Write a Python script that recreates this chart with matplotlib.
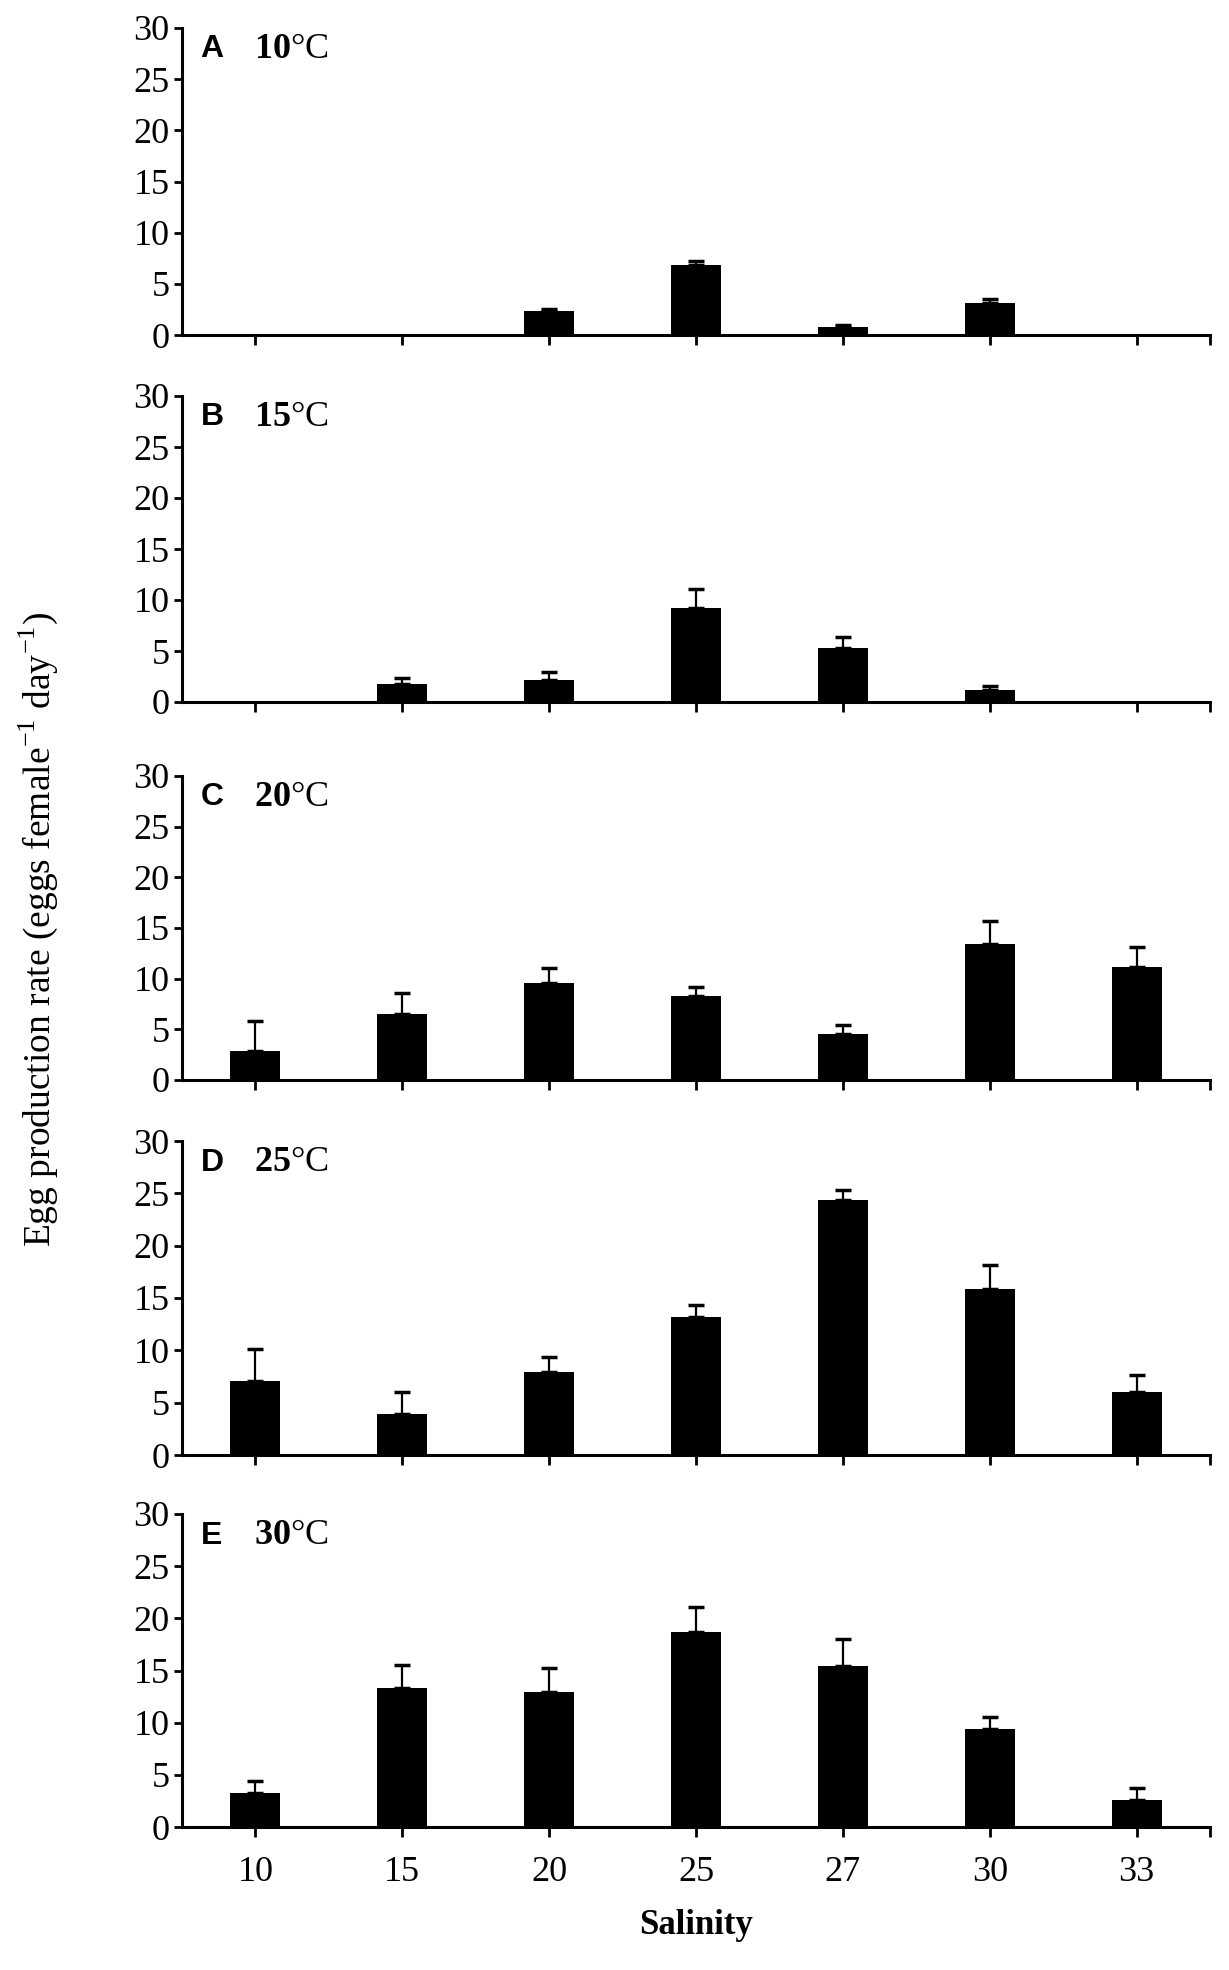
import matplotlib
matplotlib.use('Agg')
import matplotlib.pyplot as plt
import numpy as np

# Egg production rate by salinity, one panel per temperature
salinity = ['10', '15', '20', '25', '27', '30', '33']
panel_letters = ['A', 'B', 'C', 'D', 'E']
temps = ['10', '15', '20', '25', '30']

mean_10c = [0, 0, 2.3, 6.8, 0.75, 3.1, 0]
err_10c = [0, 0, 0.25, 0.4, 0.25, 0.4, 0]
mean_15c = [0, 1.8, 2.2, 9.2, 5.3, 1.2, 0]
err_15c = [0, 0.55, 0.7, 1.9, 1.1, 0.4, 0]
mean_20c = [2.9, 6.5, 9.6, 8.3, 4.5, 13.4, 11.2]
err_20c = [2.9, 2.1, 1.5, 0.85, 0.9, 2.25, 1.9]
mean_25c = [7.1, 3.9, 7.9, 13.2, 24.4, 15.9, 6.0]
err_25c = [3.0, 2.1, 1.45, 1.15, 0.9, 2.3, 1.6]
mean_30c = [3.3, 13.3, 12.9, 18.7, 15.4, 9.4, 2.6]
err_30c = [1.1, 2.2, 2.3, 2.4, 2.65, 1.15, 1.1]

means = [mean_10c, mean_15c, mean_20c, mean_25c, mean_30c]
errs = [err_10c, err_15c, err_20c, err_25c, err_30c]

plt.rcParams['font.family'] = 'Liberation Serif'
plt.rcParams['mathtext.fontset'] = 'custom'
plt.rcParams['mathtext.rm'] = 'Liberation Serif'
plt.rcParams['mathtext.bf'] = 'Liberation Serif:bold'

W, H = 1229, 1970
fig = plt.figure(figsize=(W / 100, H / 100), dpi=100)

# pixel boxes (top of 30, y of 0) for each panel
panel_px = [(28, 335), (396, 702), (776, 1080), (1141, 1455), (1514, 1827)]
left_px, right_px = 182, 1210

x = np.arange(len(salinity))
for i, (top, bot) in enumerate(panel_px):
    ax = fig.add_axes([left_px / W, 1 - bot / H, (right_px - left_px) / W, (bot - top) / H])
    m = np.array(means[i])
    e = np.array(errs[i])
    ax.bar(x, m, width=0.34, color='black', zorder=2)
    keep = m > 0
    ax.errorbar(x[keep], m[keep], yerr=[np.zeros(keep.sum()), e[keep]], fmt='none',
                ecolor='black', elinewidth=1.6, capsize=6, capthick=2.5, zorder=1)
    ax.set_xlim(-0.5, 6.5)
    ax.set_ylim(0, 30)
    ax.set_yticks(range(0, 31, 5))
    ax.set_xticks(list(x) + [6.5])
    if i == len(panel_px) - 1:
        ax.set_xticklabels(salinity + [''])
    else:
        ax.set_xticklabels([''] * 8)
    for s in ['top', 'right']:
        ax.spines[s].set_visible(False)
    for s in ['left', 'bottom']:
        ax.spines[s].set_linewidth(2.2)
    ax.tick_params(axis='y', direction='out', length=6, width=2, labelsize=26, pad=3)
    ax.tick_params(axis='x', direction='out', length=7, width=2, labelsize=26, pad=14)
    ax.text(0.018, 0.93, panel_letters[i], transform=ax.transAxes, fontsize=23,
            fontweight='bold', family='Liberation Sans', va='center', ha='left')
    ax.text(0.07, 0.93, r'$\mathbf{' + temps[i] + '}$' + '°C', transform=ax.transAxes,
            fontsize=26, va='center', ha='left')

fig.text(0.031, 0.528, r'Egg production rate (eggs female$^{-1}$ day$^{-1}$)',
         rotation=90, fontsize=27, va='center', ha='center')
fig.text(0.566, 1 - 1925 / H, 'Salinity', fontsize=25, fontweight='bold',
         ha='center', va='center')

plt.savefig('out.png', dpi=100)
